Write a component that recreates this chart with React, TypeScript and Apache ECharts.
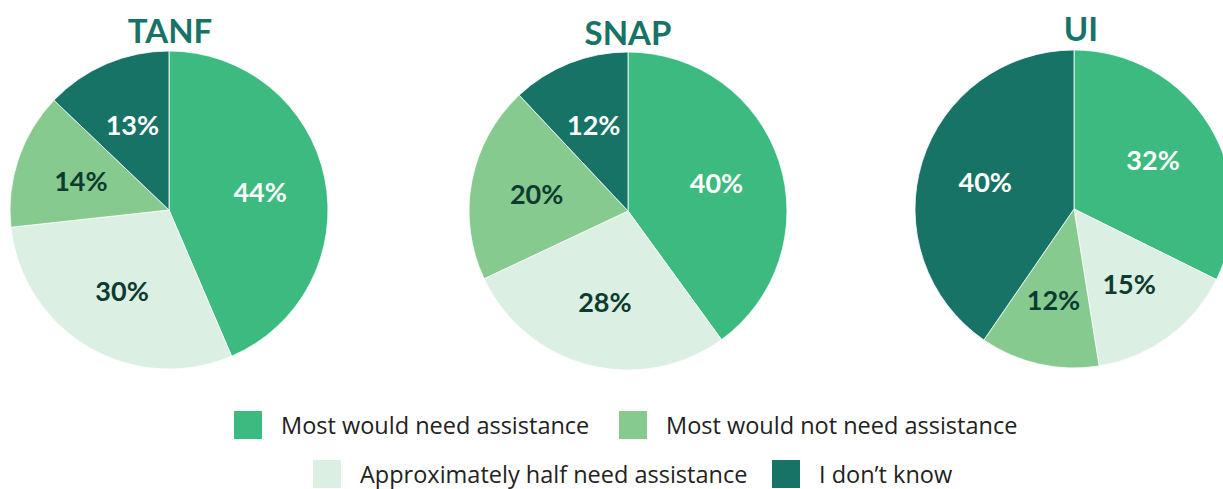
import React, { useEffect, useRef } from "react";
import * as echarts from "echarts";

const categories = [
  "Most would need assistance",
  "Approximately half need assistance",
  "Most would not need assistance",
  "I don't know",
];
const programs = ["TANF", "SNAP", "UI"];
const tanfValues = [44, 30, 14, 13];
const snapValues = [40, 28, 20, 12];
const uiValues = [32, 15, 12, 40];
const legendLabels = [
  "Most would need assistance",
  "Most would not need assistance",
  "Approximately half need assistance",
  "I don\u2019t know",
];

const colors = ["#3dba80", "#dbefe2", "#86ca90", "#167366"];
const labelColors = ["#ffffff", "#0d3b2f", "#0d3b2f", "#ffffff"];
const FONT = "Lato";
const LEGEND_FONT = "Open Sans";

export default function App() {
  const ref = useRef<HTMLDivElement>(null);
  useEffect(() => {
    document.body.style.margin = "0";
    const chart = echarts.init(ref.current!, null, { renderer: "svg" });
    const valueSets = [tanfValues, snapValues, uiValues];
    const centers = [
      [169, 210],
      [628, 211],
      [1074, 209],
    ];
    const titlePos = [
      [170, 30],
      [628, 32],
      [1081, 28],
    ];
    const R = 159;
    const labelR = 90;

    const series: any[] = [];
    valueSets.forEach((vals, i) => {
      series.push({
        type: "pie",
        name: programs[i],
        center: centers[i],
        radius: [0, R],
        startAngle: 90,
        clockwise: true,
        label: { show: false },
        labelLine: { show: false },
        emphasis: { disabled: true },
        silent: true,
        itemStyle: { borderColor: "#ffffff", borderWidth: 0.8 },
        data: vals.map((v, j) => ({
          name: categories[j],
          value: v,
          itemStyle: { color: colors[j] },
        })),
      });
    });
    valueSets.forEach((vals, i) => {
      series.push({
        type: "pie",
        name: programs[i] + " labels",
        center: centers[i],
        radius: [0, labelR * 2],
        startAngle: 90,
        clockwise: true,
        silent: true,
        emphasis: { disabled: true },
        labelLine: { show: false },
        itemStyle: { color: "rgba(0,0,0,0)", borderWidth: 0 },
        data: vals.map((v, j) => ({
          name: categories[j] + " ",
          value: v,
          label: {
            show: true,
            position: "inner",
            formatter: "{c}%",
            color: labelColors[j],
            fontFamily: FONT,
            fontWeight: "bold",
            fontSize: 27,
          },
        })),
      });
    });

    const legendPos = [
      [232, 409, 0],
      [617, 409, 2],
      [311, 458, 1],
      [770, 458, 3],
    ];
    const legends = legendPos.map(([x, y, idx], k) => ({
      left: x,
      top: y,
      padding: 0,
      itemWidth: 30,
      itemHeight: 30,
      icon: "rect",
      selectedMode: false,
      data: [
        {
          name: categories[idx],
          itemStyle: { color: colors[idx] },
        },
      ],
      formatter: () => legendLabels[k],
      textStyle: {
        fontFamily: LEGEND_FONT,
        fontSize: 23.5,
        lineHeight: 26,
        color: "#222222",
        padding: [0, 0, 0, 13],
      },
    }));

    chart.setOption({
      animation: false,
      color: colors,
      legend: legends,
      graphic: programs.map((p, i) => ({
        type: "text",
        x: titlePos[i][0],
        y: titlePos[i][1],
        style: {
          text: p,
          fontFamily: FONT,
          fontWeight: "bold",
          fontSize: 33,
          fill: "#187367",
          textAlign: "center",
          textVerticalAlign: "middle",
        },
      })),
      series,
    });
    return () => chart.dispose();
  }, []);
  return <div ref={ref} style={{ width: 1223, height: 489 }} />;
}
